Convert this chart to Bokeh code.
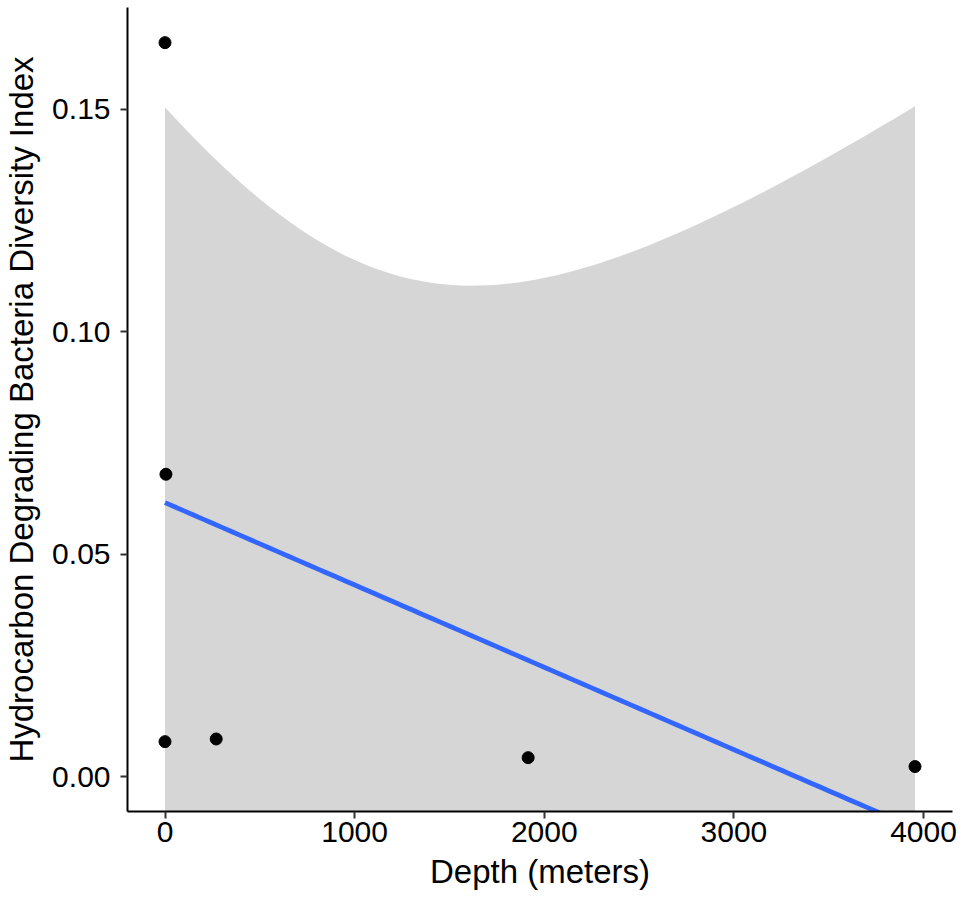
import numpy as np
from bokeh.plotting import figure
from bokeh.models import Range1d, FixedTicker, NumeralTickFormatter, ColumnDataSource
from bokeh.embed import file_html
from bokeh.resources import INLINE

# Data
depth = [0, 5, 0, 270, 1915, 3955]
diversity = [0.165, 0.068, 0.0079, 0.0085, 0.0043, 0.0023]
x_ticks = [0, 1000, 2000, 3000, 4000]
y_ticks = [0.00, 0.05, 0.10, 0.15]

# Linear fit with 95% confidence band (as geom_smooth(method="lm"))
x = np.array(depth, dtype=float)
y = np.array(diversity, dtype=float)
n = len(x)
slope, intercept = np.polyfit(x, y, 1)
resid = y - (intercept + slope * x)
s = np.sqrt(np.sum(resid ** 2) / (n - 2))
sxx = np.sum((x - x.mean()) ** 2)
t_crit = 2.776445  # t quantile 0.975, df = 4
xs = np.linspace(x.min(), x.max(), 80)
fit = intercept + slope * xs
se = s * np.sqrt(1.0 / n + (xs - x.mean()) ** 2 / sxx)
band = ColumnDataSource(dict(x=xs, fit=fit, lo=fit - t_crit * se, hi=fit + t_crit * se))
pts = ColumnDataSource(dict(x=depth, y=diversity))

FONT = "Liberation Sans"

p = figure(width=958, height=892, output_backend="svg", toolbar_location=None,
           x_range=Range1d(-197.75, 4152.75), y_range=Range1d(-0.0078, 0.1729),
           min_border_left=127, min_border_right=6, min_border_top=7, min_border_bottom=79)
p.outline_line_color = None
p.xgrid.visible = False
p.ygrid.visible = False
p.background_fill_color = "white"
p.border_fill_color = "white"

p.varea(x="x", y1="lo", y2="hi", source=band, fill_color="#999999", fill_alpha=0.4)
p.line(x="x", y="fit", source=band, line_color="#3366FF", line_width=4.8)
p.scatter(x="x", y="y", source=pts, size=12, fill_color="black", line_color="black")

p.xaxis.ticker = FixedTicker(ticks=x_ticks)
p.yaxis.ticker = FixedTicker(ticks=y_ticks)
p.xaxis.formatter = NumeralTickFormatter(format="0")
p.yaxis.formatter = NumeralTickFormatter(format="0.00")
p.xaxis.axis_label = "Depth (meters)"
p.yaxis.axis_label = "Hydrocarbon Degrading Bacteria Diversity Index"

for ax in (p.xaxis, p.yaxis):
    ax.axis_line_color = "black"
    ax.axis_line_width = 2
    ax.major_tick_line_color = "#333333"
    ax.major_tick_line_width = 2
    ax.major_tick_out = 7
    ax.major_tick_in = 0
    ax.minor_tick_line_color = None
    ax.major_label_text_font = FONT
    ax.major_label_text_font_size = "30px"
    ax.major_label_text_color = "black"
    ax.axis_label_text_font = FONT
    ax.axis_label_text_font_size = "33px"
    ax.axis_label_text_font_style = "normal"
    ax.axis_label_text_color = "black"

p.xaxis.major_label_standoff = 3
p.yaxis.major_label_standoff = 10
p.xaxis.axis_label_standoff = 8
p.yaxis.axis_label_standoff = 9

open("out.html", "w").write(file_html(p, INLINE))
